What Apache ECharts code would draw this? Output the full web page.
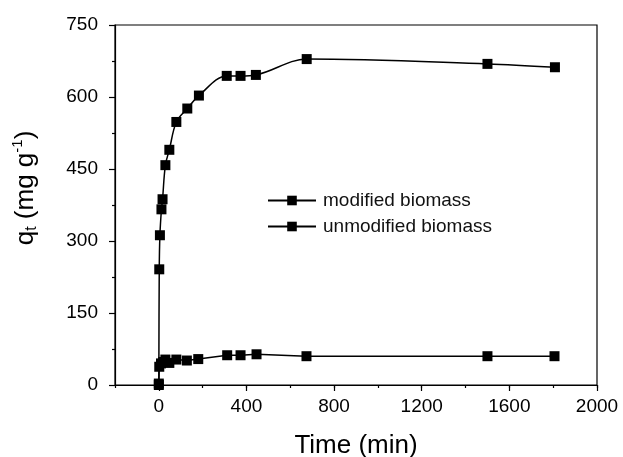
<!DOCTYPE html>
<html>
<head>
<meta charset="utf-8">
<script src="https://cdn.jsdelivr.net/npm/echarts@6/dist/echarts.min.js"></script>
<style>
html,body{margin:0;padding:0;background:#fff;}
#c{width:623px;height:457px;}
</style>
</head>
<body>
<div id="c"></div>
<script>
// Data
const modTime   = [0, 2, 5, 12, 17, 30, 48, 80, 130, 183, 310, 373, 443, 675, 1500, 1808];
const modQ      = [0, 241, 312, 366, 387, 458, 490, 548, 576, 603, 644, 644, 646, 679, 669, 662];
const unmodTime = [0, 2, 10, 20, 30, 48, 80, 128, 180, 312, 373, 446, 674, 1500, 1806];
const unmodQ    = [3, 38, 45, 48, 53, 46, 53, 51, 54, 62, 62, 64, 60, 60, 60];
const seriesNames = ['modified biomass', 'unmodified biomass'];
const xLabelValues = [0, 400, 800, 1200, 1600, 2000];

const FONT = 'Arial, "Liberation Sans", Helvetica, sans-serif';
const pairs = (xs, ys) => xs.map((x, i) => [x, ys[i]]);

const chart = echarts.init(document.getElementById('c'), null, {renderer: 'canvas'});
chart.setOption({
  animation: false,
  backgroundColor: '#fff',
  grid: {left: 115, right: 26, top: 25, bottom: 72, show: true, borderColor: '#000', borderWidth: 1.2,
    containLabel: false, outerBoundsMode: 'none'},
  legend: {
    orient: 'vertical', left: 262, top: 186, itemWidth: 48, itemHeight: 12, itemGap: 7,
    data: seriesNames,
    textStyle: {fontFamily: FONT, fontSize: 19, color: '#111', padding: [0, 0, 0, 2]},
    itemStyle: {color: '#000'}
  },
  xAxis: [{
    type: 'value', min: -200, max: 2000, interval: 200,
    name: 'Time (min)', nameLocation: 'middle', nameGap: 48,
    nameTextStyle: {fontFamily: FONT, fontSize: 26, color: '#000'},
    axisLine: {show: true, onZero: false, lineStyle: {color: '#000', width: 1.2}},
    axisTick: {show: true, length: 6, inside: false, customValues: xLabelValues, lineStyle: {color: '#000', width: 1.2}},
    axisLabel: {show: true, customValues: xLabelValues, fontFamily: FONT, fontSize: 19, color: '#000', margin: 12,
      formatter: v => String(v)},
    splitLine: {show: false}
  }, {
    type: 'value', min: -200, max: 2000, interval: 200, position: 'bottom',
    axisLine: {show: false, onZero: false},
    axisTick: {show: true, length: 3, lineStyle: {color: '#000', width: 1.2}},
    axisLabel: {show: false},
    splitLine: {show: false}
  }],
  yAxis: {
    type: 'value', min: 0, max: 750, interval: 150,
    name: '{a|q}{b|t}{a| (mg g}{c|-1}{a|)}', nameLocation: 'middle', nameGap: 74,
    nameTextStyle: {
      fontFamily: FONT, fontSize: 26, color: '#000', padding: [0, 0, 0, 34],
      rich: {
        a: {fontFamily: FONT, fontSize: 26, color: '#000'},
        b: {fontFamily: FONT, fontSize: 16, color: '#000', padding: [12, 0, 0, 0]},
        c: {fontFamily: FONT, fontSize: 15, color: '#000', padding: [0, 0, 16, 0]}
      }
    },
    axisLine: {show: true, onZero: false, lineStyle: {color: '#000', width: 1.2}},
    axisTick: {show: true, length: 6, lineStyle: {color: '#000', width: 1.2}},
    minorTick: {show: true, splitNumber: 2, length: 3, lineStyle: {color: '#000', width: 1.2}},
    axisLabel: {fontFamily: FONT, fontSize: 19, color: '#000', margin: 17},
    splitLine: {show: false}
  },
  series: [{
    name: seriesNames[0], type: 'line', smooth: 0.35,
    data: pairs(modTime, modQ),
    symbol: 'rect', symbolSize: 10,
    lineStyle: {color: '#000', width: 1.5},
    itemStyle: {color: '#000'}
  }, {
    name: seriesNames[1], type: 'line', smooth: false,
    data: pairs(unmodTime, unmodQ),
    symbol: 'rect', symbolSize: 10,
    lineStyle: {color: '#000', width: 1.5},
    itemStyle: {color: '#000'}
  }]
});
</script>
</body>
</html>
